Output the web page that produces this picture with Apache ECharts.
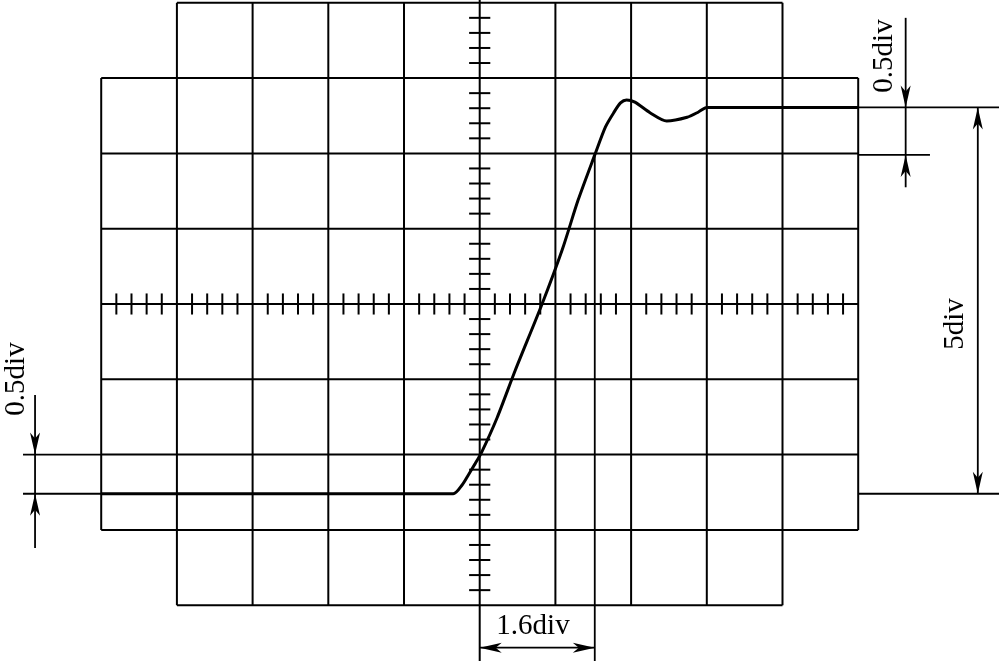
<!DOCTYPE html>
<html><head><meta charset="utf-8">
<script src="https://cdn.jsdelivr.net/npm/echarts@6/dist/echarts.min.js"></script>
<style>html,body{margin:0;padding:0;background:#fff}#c{width:999px;height:661px}</style>
</head><body><div id="c"></div>
<script>
// ---- data (in screen divisions) ----
const traceX = [-5, -0.35, -0.23, -0.15, -0.06, 0.02, 0.23, 0.47, 0.82, 1.09, 1.30, 1.52, 1.66, 1.77, 1.86, 1.94, 2.05, 2.25, 2.47, 2.74, 2.89, 3.0, 5];
const traceY = [-2.52, -2.52, -2.40, -2.27, -2.12, -1.98, -1.51, -0.88, -0.01, 0.72, 1.38, 1.98, 2.35, 2.54, 2.67, 2.71, 2.68, 2.54, 2.43, 2.48, 2.55, 2.61, 2.61];
const baseLevel = -2.52, topLevel = 2.61, lowRef = -2.0, highRef = 1.98;
const riseStartX = 0, riseEndX = 1.52;
const labels = ['0.5div', '0.5div', '5div', '1.6div'];
const labelPos = [[-6.125, -0.996], [5.344, 3.293], [6.289, -0.266], [0.704, -4.276]];
const labelRot = [90, 90, 90, 0];
const majorX = [-5, -4, -3, -2, -1, 0, 1, 2, 3, 4, 5];
const majorY = [-4, -3, -2, -1, 0, 1, 2, 3, 4];
const minorStep = 0.2;

const X0 = -6.337, X1 = 6.860, Y0 = -4.741, Y1 = 4.037;

// ---- graticule segments ----
const grat = [];
majorX.forEach(x => { const e = Math.abs(x) === 5 ? 3 : 4; if (x !== 0) grat.push([x, -e, x, e]); });
majorY.forEach(y => { const e = Math.abs(y) === 4 ? 4 : 5; grat.push([-e, y, e, y]); });
grat.push([0, Y1, 0, Y0]); // centre vertical axis (extended as dimension line)
const ticks = [];
for (let i = -24; i <= 24; i++) { if (i % 5 !== 0) ticks.push([i * minorStep, -0.14, i * minorStep, 0.14]); }
for (let i = -19; i <= 19; i++) { if (i % 5 !== 0) ticks.push([-0.14, i * minorStep, 0.14, i * minorStep]); }

// ---- dimension lines ----
const dims = [
  [-6.033, lowRef, -5, lowRef], [-6.033, baseLevel, -5, baseLevel],
  [-5.874, -1.21, -5.874, -3.24],
  [5, topLevel, X1, topLevel], [5, highRef, 5.948, highRef], [5, baseLevel, X1, baseLevel],
  [5.627, 3.80, 5.627, 1.55],
  [6.58, topLevel, 6.58, baseLevel],
  [riseEndX, highRef, riseEndX, Y0],
  [riseStartX, -4.564, riseEndX, -4.564]
];
const arrows = [
  [-5.874, lowRef, 'down'], [-5.874, baseLevel, 'up'],
  [5.627, topLevel, 'down'], [5.627, highRef, 'up'],
  [6.58, topLevel, 'up'], [6.58, baseLevel, 'down'],
  [riseStartX, -4.564, 'left'], [riseEndX, -4.564, 'right']
];

function segSeries(data, w) {
  return {
    type: 'custom', data: data, silent: true, clip: false, z: 2,
    renderItem: function (p, api) {
      const a = api.coord([api.value(0), api.value(1)]);
      const b = api.coord([api.value(2), api.value(3)]);
      return { type: 'line', shape: { x1: a[0], y1: a[1], x2: b[0], y2: b[1] }, style: { stroke: '#000', lineWidth: w } };
    }
  };
}
const dirs = { up: [0, -1], down: [0, 1], left: [-1, 0], right: [1, 0] };

const chart = echarts.init(document.getElementById('c'), null, { renderer: 'canvas' });
chart.setOption({
  animation: false,
  backgroundColor: '#fff',
  grid: { left: 0, right: 0, top: 0, bottom: 0 },
  xAxis: { type: 'value', min: X0, max: X1, show: false },
  yAxis: { type: 'value', min: Y0, max: Y1, show: false },
  series: [
    segSeries(grat, 2),
    segSeries(ticks, 2),
    segSeries(dims, 1.8),
    {
      type: 'custom', data: arrows.map(a => [a[0], a[1]]), silent: true, clip: false, z: 3,
      renderItem: function (p, api) {
        const t = api.coord([api.value(0), api.value(1)]);
        const d = dirs[arrows[p.dataIndex][2]];
        const n = [-d[1], d[0]];
        const L = 22, W = 5, N = 6;
        const pts = [
          [t[0], t[1]],
          [t[0] - d[0] * L + n[0] * W, t[1] - d[1] * L + n[1] * W],
          [t[0] - d[0] * (L - N), t[1] - d[1] * (L - N)],
          [t[0] - d[0] * L - n[0] * W, t[1] - d[1] * L - n[1] * W]
        ];
        return { type: 'polygon', shape: { points: pts }, style: { fill: '#000' } };
      }
    },
    {
      type: 'custom', data: labelPos, silent: true, clip: false, z: 4,
      renderItem: function (p, api) {
        const c = api.coord([api.value(0), api.value(1)]);
        return {
          type: 'text', x: c[0], y: c[1], rotation: labelRot[p.dataIndex] * Math.PI / 180,
          style: { text: labels[p.dataIndex], font: '29px "Liberation Serif"', fill: '#000', align: 'center', verticalAlign: 'middle' }
        };
      }
    },
    {
      type: 'line', data: traceX.map((x, i) => [x, traceY[i]]), showSymbol: false, smooth: 0.25,
      lineStyle: { color: '#000', width: 3 }, z: 5, silent: true
    }
  ]
});
</script></body></html>
